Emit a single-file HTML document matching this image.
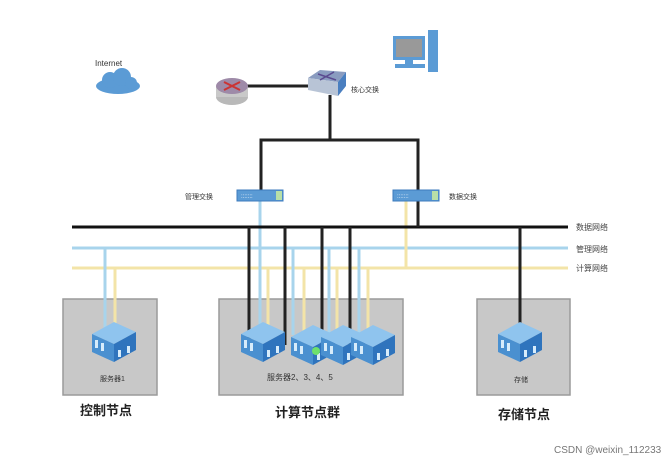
<!DOCTYPE html>
<html><head><meta charset="utf-8"><style>
html,body{margin:0;padding:0;background:#fff}
svg{display:block}
text{font-family:"Liberation Sans","Noto Sans CJK SC",sans-serif}
</style></head><body>
<svg width="668" height="463" viewBox="0 0 668 463" xmlns="http://www.w3.org/2000/svg">
<defs>
<g id="srv">
<polygon points="0,12 22,0 44,10 22,22" fill="#8fc4ee"/>
<polygon points="0,12 22,22 22,40 0,30" fill="#4a90d0"/>
<polygon points="22,22 44,10 44,28 22,40" fill="#2f74bd"/>
<rect x="3" y="18" width="3" height="8" fill="#d7ecfb"/>
<rect x="9" y="21" width="3" height="8" fill="#d7ecfb"/>
<rect x="26" y="28" width="3" height="7" fill="#d7ecfb"/>
<rect x="35" y="24" width="3" height="7" fill="#d7ecfb"/>
</g>
</defs>
<!-- boxes -->
<rect x="63" y="299" width="94" height="96" fill="#c8c8c8" stroke="#9a9a9a" stroke-width="1.5"/>
<rect x="219" y="299" width="184" height="96" fill="#c8c8c8" stroke="#9a9a9a" stroke-width="1.5"/>
<rect x="477" y="299" width="93" height="96" fill="#c8c8c8" stroke="#9a9a9a" stroke-width="1.5"/>
<!-- network lines -->
<line x1="72" y1="248" x2="568" y2="248" stroke="#a8d4ec" stroke-width="3"/>
<line x1="72" y1="268" x2="568" y2="268" stroke="#f3e4a8" stroke-width="3"/>
<!-- verticals blue -->
<g stroke="#a8d4ec" stroke-width="3">
<line x1="105" y1="248" x2="105" y2="330"/>
<line x1="260" y1="200" x2="260" y2="330"/>
<line x1="293" y1="248" x2="293" y2="335"/>
<line x1="329" y1="248" x2="329" y2="335"/>
<line x1="359" y1="248" x2="359" y2="335"/>
</g>
<g stroke="#f3e4a8" stroke-width="3">
<line x1="115" y1="268" x2="115" y2="330"/>
<line x1="268" y1="268" x2="268" y2="330"/>
<line x1="304" y1="268" x2="304" y2="335"/>
<line x1="337" y1="268" x2="337" y2="335"/>
<line x1="368" y1="268" x2="368" y2="335"/>
<line x1="406" y1="200" x2="406" y2="268"/>
</g>
<line x1="72" y1="227" x2="568" y2="227" stroke="#111" stroke-width="3"/>
<g stroke="#222" stroke-width="3" fill="none">
<line x1="249" y1="227" x2="249" y2="345"/>
<line x1="285" y1="227" x2="285" y2="345"/>
<line x1="322" y1="227" x2="322" y2="345"/>
<line x1="350" y1="227" x2="350" y2="345"/>
<line x1="520" y1="227" x2="520" y2="330"/>
<polyline points="261,193 261,140 418,140 418,227"/>
<line x1="330" y1="140" x2="330" y2="95"/>
<line x1="245" y1="86" x2="315" y2="86"/>
</g>
<!-- switches -->
<rect x="237" y="190" width="46" height="11" fill="#5b9bd5" stroke="#3d7bbd"/>
<rect x="276" y="191" width="6" height="9" fill="#b8e0a8"/>
<text x="241" y="198" font-size="6" fill="#fff">:::::::</text>
<rect x="393" y="190" width="46" height="11" fill="#5b9bd5" stroke="#3d7bbd"/>
<rect x="432" y="191" width="6" height="9" fill="#b8e0a8"/>
<text x="397" y="198" font-size="6" fill="#fff">:::::::</text>
<text x="185" y="199" font-size="7" fill="#333">管理交换</text>
<text x="449" y="199" font-size="7" fill="#333">数据交换</text>
<!-- router -->
<ellipse cx="232" cy="97" rx="16" ry="8" fill="#b9b9b9"/>
<rect x="216" y="86" width="32" height="11" fill="#c9c9c9"/>
<ellipse cx="232" cy="86" rx="16" ry="8" fill="#9e8aa8"/>
<path d="M224 82 L240 90 M240 82 L224 90" stroke="#c33" stroke-width="2"/>
<!-- core switch -->
<polygon points="308,78 320,70 346,72 338,82" fill="#8a9cc0"/>
<polygon points="308,78 338,82 338,96 308,90" fill="#b8c4d6"/>
<polygon points="338,82 346,72 346,86 338,96" fill="#4a7fc0"/>
<path d="M318 74 L336 80 M334 72 L320 80" stroke="#5a4a90" stroke-width="1.5"/>
<text x="351" y="92" font-size="7" fill="#333">核心交换</text>
<!-- monitor -->
<rect x="393" y="36" width="32" height="24" fill="#5b9bd5"/>
<rect x="396" y="39" width="26" height="18" fill="#999"/>
<rect x="405" y="60" width="8" height="4" fill="#5b9bd5"/>
<rect x="395" y="64" width="30" height="4" fill="#5b9bd5"/>
<rect x="428" y="30" width="10" height="42" fill="#5b9bd5"/>
<!-- cloud -->
<text x="95" y="66" font-size="8" fill="#333">Internet</text>
<g fill="#5b9bd5">
<ellipse cx="118" cy="86" rx="22" ry="8"/>
<circle cx="110" cy="80" r="8"/><circle cx="122" cy="77" r="9"/><circle cx="131" cy="83" r="6"/>
</g>
<!-- servers -->
<use href="#srv" x="92" y="322"/>
<use href="#srv" x="241" y="322"/>
<use href="#srv" x="291" y="325"/>
<use href="#srv" x="321" y="325"/>
<use href="#srv" x="351" y="325"/>
<circle cx="316" cy="351" r="4" fill="#6de06d"/>
<use href="#srv" x="498" y="322"/>
<text x="100" y="381" font-size="7" fill="#333">服务器1</text>
<text x="267" y="380" font-size="8" fill="#333">服务器2、3、4、5</text>
<text x="514" y="382" font-size="7" fill="#333">存储</text>
<text x="80" y="415" font-size="13" font-weight="bold" fill="#222">控制节点</text>
<text x="275" y="417" font-size="13" font-weight="bold" fill="#222">计算节点群</text>
<text x="498" y="419" font-size="13" font-weight="bold" fill="#222">存储节点</text>
<text x="576" y="230" font-size="8" fill="#444">数据网络</text>
<text x="576" y="252" font-size="8" fill="#444">管理网络</text>
<text x="576" y="271" font-size="8" fill="#444">计算网络</text>
<text x="554" y="453" font-size="10" fill="#777">CSDN @weixin_112233</text>
</svg>
</body></html>
